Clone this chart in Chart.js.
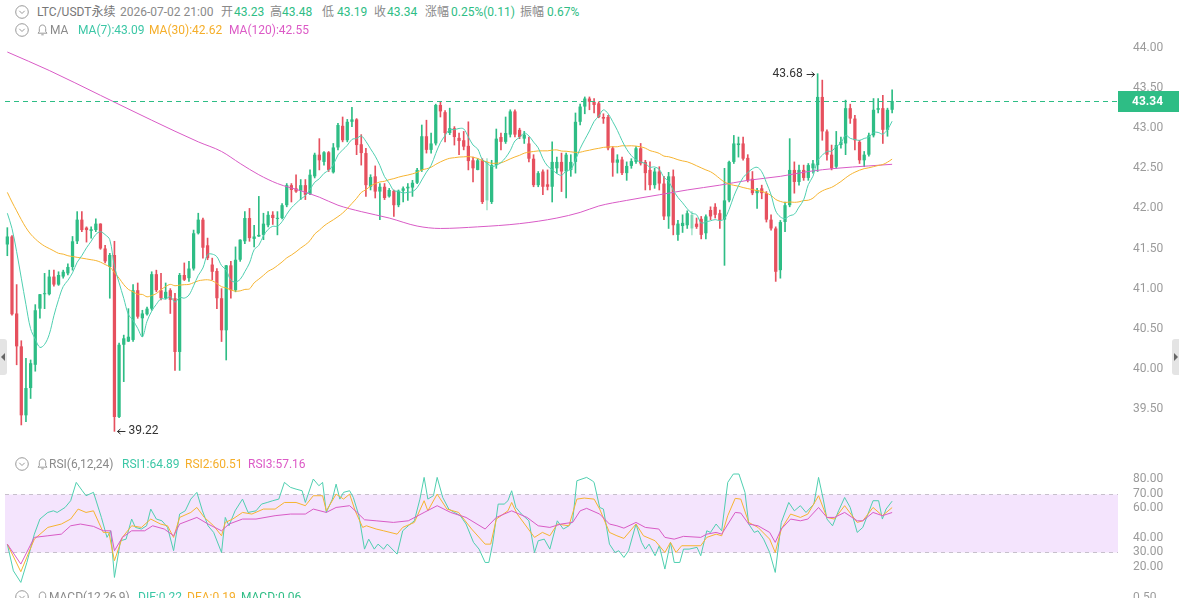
<!DOCTYPE html>
<html>
<head>
<meta charset="utf-8">
<script src="https://cdn.jsdelivr.net/npm/chart.js@4.4.1/dist/chart.umd.min.js"></script>
<style>
  body { margin: 0; background: #fff; }
  #wrap { position: relative; width: 1179px; height: 598px; overflow: hidden; font-family: Roboto, "Noto Sans CJK SC", sans-serif; font-size: 12px; color: #8a8a8a; }
  .t { position: absolute; white-space: nowrap; line-height: 16px; }
  .ic { position: absolute; }
  canvas { position: absolute; left: 0; }
  .up { color: #2ebd85; }
  .c1 { color: #3cc7a6; }
  .c2 { color: #f5ae2a; }
  .c3 { color: #dc5ac6; }
  .tab { position: absolute; top: 339px; width: 7px; height: 36px; background: #e4e4e4; }
</style>
</head>
<body>
<div id="wrap">
  <canvas id="price" width="1179" height="429" style="top:30px"></canvas>
  <canvas id="rsi" width="1179" height="142" style="top:458px"></canvas>

  <svg class="ic" style="left:15px;top:5px" width="14" height="14" viewBox="0 0 14 14"><circle cx="7" cy="7" r="6.3" fill="none" stroke="#9a9a9a"/><path d="M4.3 5.8 L7 8.5 L9.7 5.8" fill="none" stroke="#9a9a9a"/></svg>
  <span class="t" style="left:37px;top:4px;color:#777">LTC/USDT永续</span>
  <span class="t" style="left:120px;top:4px">2026-07-02 21:00</span>
  <span class="t" style="left:221px;top:4px">开</span><span class="t up" style="left:234px;top:4px">43.23</span>
  <span class="t" style="left:270px;top:4px">高</span><span class="t up" style="left:282px;top:4px">43.48</span>
  <span class="t" style="left:322px;top:4px">低</span><span class="t up" style="left:337px;top:4px">43.19</span>
  <span class="t" style="left:374px;top:4px">收</span><span class="t up" style="left:387px;top:4px">43.34</span>
  <span class="t" style="left:425px;top:4px">涨幅</span><span class="t up" style="left:451px;top:4px">0.25%(0.11)</span>
  <span class="t" style="left:520px;top:4px">振幅</span><span class="t up" style="left:547px;top:4px">0.67%</span>

  <svg class="ic" style="left:15px;top:23px" width="14" height="14" viewBox="0 0 14 14"><circle cx="7" cy="7" r="6.3" fill="none" stroke="#9a9a9a"/><path d="M4.3 5.8 L7 8.5 L9.7 5.8" fill="none" stroke="#9a9a9a"/></svg>
  <svg class="ic" style="left:37px;top:24px" width="11" height="12" viewBox="0 0 11 12"><path d="M5.5 1 C3.3 1 2.3 2.8 2.3 4.6 V7.6 L1 9.2 H10 L8.7 7.6 V4.6 C8.7 2.8 7.7 1 5.5 1 Z" fill="none" stroke="#9a9a9a"/><path d="M4.3 10.8 H6.7" stroke="#9a9a9a"/></svg>
  <span class="t" style="left:50px;top:22px">MA</span>
  <span class="t c1" style="left:78px;top:22px">MA(7):43.09</span>
  <span class="t c2" style="left:149px;top:22px">MA(30):42.62</span>
  <span class="t c3" style="left:229px;top:22px">MA(120):42.55</span>

  <svg class="ic" style="left:15px;top:457px" width="14" height="14" viewBox="0 0 14 14"><circle cx="7" cy="7" r="6.3" fill="none" stroke="#9a9a9a"/><path d="M4.3 5.8 L7 8.5 L9.7 5.8" fill="none" stroke="#9a9a9a"/></svg>
  <svg class="ic" style="left:37px;top:458px" width="11" height="12" viewBox="0 0 11 12"><path d="M5.5 1 C3.3 1 2.3 2.8 2.3 4.6 V7.6 L1 9.2 H10 L8.7 7.6 V4.6 C8.7 2.8 7.7 1 5.5 1 Z" fill="none" stroke="#9a9a9a"/><path d="M4.3 10.8 H6.7" stroke="#9a9a9a"/></svg>
  <span class="t" style="left:49px;top:456px">RSI(6,12,24)</span>
  <span class="t c1" style="left:122px;top:456px">RSI1:64.89</span>
  <span class="t c2" style="left:185px;top:456px">RSI2:60.51</span>
  <span class="t c3" style="left:248px;top:456px">RSI3:57.16</span>

  <svg class="ic" style="left:15px;top:590px" width="14" height="14" viewBox="0 0 14 14"><circle cx="7" cy="7" r="6.3" fill="none" stroke="#9a9a9a"/><path d="M4.3 5.8 L7 8.5 L9.7 5.8" fill="none" stroke="#9a9a9a"/></svg>
  <svg class="ic" style="left:37px;top:591px" width="11" height="12" viewBox="0 0 11 12"><path d="M5.5 1 C3.3 1 2.3 2.8 2.3 4.6 V7.6 L1 9.2 H10 L8.7 7.6 V4.6 C8.7 2.8 7.7 1 5.5 1 Z" fill="none" stroke="#9a9a9a"/></svg>
  <span class="t" style="left:49px;top:589px">MACD(12,26,9)</span>
  <span class="t c1" style="left:138px;top:589px">DIF:0.22</span>
  <span class="t c2" style="left:187px;top:589px">DEA:0.19</span>
  <span class="t up" style="left:241px;top:589px">MACD:0.06</span>
  <span class="t" style="left:1133px;top:589px;color:#9b9b9b">0.50</span>

  <div class="tab" style="left:0;border-radius:0 3px 3px 0"></div>
  <div class="ic" style="left:1px;top:353px;border-top:4px solid transparent;border-bottom:4px solid transparent;border-right:4px solid #666"></div>
  <div class="tab" style="left:1172px;border-radius:3px 0 0 3px"></div>
  <div class="ic" style="left:1174px;top:353px;border-top:4px solid transparent;border-bottom:4px solid transparent;border-left:4px solid #666"></div>
</div>

<script>
// hourly candles, oldest first
const opens = [
  41.55, 41.65, 40.69, 40.28, 39.42, 39.76, 40.05, 40.75, 40.93, 40.93,
  41.15, 41.05, 41.15, 41.19, 41.27, 41.59, 41.86, 41.76, 41.72, 41.73,
  41.81, 41.50, 41.27, 41.42, 39.40, 40.30, 40.34, 40.36, 40.98, 40.63,
  40.68, 40.75, 41.18, 40.98, 40.88, 40.98, 40.88, 40.21, 41.17, 41.13,
  41.25, 41.69, 41.86, 41.54, 41.30, 41.22, 40.88, 40.48, 41.29, 40.98,
  41.36, 41.59, 41.88, 41.62, 41.65, 41.67, 41.79, 41.92, 41.87, 41.88,
  42.04, 42.29, 42.25, 42.22, 42.29, 42.18, 42.40, 42.67, 42.58, 42.70,
  42.45, 42.76, 43.03, 42.85, 43.08, 43.11, 42.80, 42.69, 42.27, 42.40,
  42.21, 42.27, 42.15, 42.22, 42.04, 42.22, 42.25, 42.26, 42.32, 42.48,
  42.90, 42.73, 42.81, 43.29, 43.20, 42.94, 43.00, 42.88, 42.85, 42.78,
  42.60, 42.48, 42.60, 42.10, 42.08, 42.54, 42.89, 42.83, 42.92, 43.21,
  42.98, 42.87, 42.81, 42.62, 42.29, 42.46, 42.30, 42.27, 42.50, 42.58,
  42.46, 42.48, 42.58, 43.08, 43.27, 43.37, 43.33, 43.31, 43.14, 43.14,
  42.75, 42.57, 42.61, 42.44, 42.53, 42.58, 42.75, 42.58, 42.48, 42.29,
  42.46, 42.31, 41.90, 42.40, 41.67, 41.78, 41.79, 41.75, 41.81, 41.87,
  41.69, 41.98, 42.02, 41.94, 41.86, 42.10, 42.58, 42.79, 42.81, 42.63,
  42.37, 42.19, 42.25, 42.19, 41.86, 41.75, 41.23, 41.83, 42.04, 42.48,
  42.33, 42.48, 42.38, 42.50, 42.54, 43.39, 42.96, 42.67, 42.52, 42.79,
  42.81, 43.25, 43.12, 42.83, 42.60, 42.67, 42.91, 43.23, 43.25, 42.98,
  43.23
];
const highs = [
  41.76, 41.66, 41.05, 40.35, 40.13, 40.11, 40.80, 40.93, 41.19, 41.23,
  41.23, 41.21, 41.23, 41.31, 41.65, 41.96, 41.96, 41.77, 41.77, 41.87,
  41.81, 41.54, 41.44, 41.59, 40.32, 40.42, 40.75, 41.05, 41.07, 40.73,
  40.77, 41.21, 41.23, 41.19, 41.07, 41.00, 40.94, 41.19, 41.32, 41.34,
  41.73, 41.94, 41.88, 41.63, 41.38, 41.25, 41.00, 41.29, 41.34, 41.52,
  41.61, 41.96, 42.00, 41.79, 42.15, 41.94, 41.96, 41.96, 41.96, 42.06,
  42.31, 42.31, 42.42, 42.36, 42.36, 42.48, 42.69, 42.87, 42.71, 42.71,
  42.81, 43.06, 43.14, 43.11, 43.26, 43.12, 42.92, 42.75, 42.42, 42.53,
  42.31, 42.31, 42.25, 42.23, 42.23, 42.27, 42.31, 42.35, 42.50, 43.04,
  43.10, 42.94, 43.30, 43.33, 43.22, 43.25, 43.02, 42.94, 42.96, 43.08,
  42.64, 42.62, 42.62, 42.62, 42.60, 42.99, 42.94, 43.14, 43.23, 43.23,
  43.00, 42.96, 42.89, 42.67, 42.46, 42.48, 42.48, 42.83, 42.64, 42.69,
  42.69, 42.67, 43.19, 43.30, 43.39, 43.39, 43.37, 43.33, 43.18, 43.16,
  42.77, 42.67, 42.64, 42.58, 42.62, 42.77, 42.81, 42.60, 42.58, 42.50,
  42.52, 42.40, 42.45, 42.48, 41.85, 41.92, 41.97, 41.96, 41.88, 41.90,
  41.92, 42.02, 42.06, 41.98, 42.50, 42.59, 42.91, 42.89, 42.89, 42.67,
  42.46, 42.25, 42.29, 42.21, 41.92, 41.77, 41.85, 42.08, 42.87, 42.58,
  42.54, 42.54, 42.56, 42.60, 43.68, 43.60, 42.98, 42.79, 42.96, 42.89,
  43.35, 43.30, 43.16, 42.85, 42.71, 42.94, 43.37, 43.37, 43.41, 43.25,
  43.48
];
const lows = [
  41.41, 40.67, 40.05, 39.30, 39.34, 39.63, 39.97, 40.63, 40.75, 40.92,
  41.03, 41.04, 41.13, 41.17, 41.23, 41.56, 41.71, 41.58, 41.63, 41.71,
  41.49, 41.32, 40.88, 39.22, 39.39, 39.84, 40.34, 40.34, 40.63, 40.40,
  40.67, 40.73, 40.96, 40.86, 40.87, 40.69, 39.98, 39.98, 41.10, 41.09,
  41.23, 41.68, 41.38, 41.36, 41.11, 40.75, 40.34, 40.11, 40.88, 40.96,
  41.34, 41.56, 41.59, 41.52, 41.65, 41.61, 41.77, 41.80, 41.67, 41.87,
  42.02, 42.08, 42.20, 42.11, 42.11, 42.17, 42.38, 42.48, 42.54, 42.46,
  42.44, 42.73, 42.83, 42.83, 43.02, 42.67, 42.54, 42.15, 42.23, 42.13,
  41.86, 42.11, 42.14, 41.90, 42.02, 42.08, 42.10, 42.15, 42.31, 42.46,
  42.69, 42.69, 42.79, 43.14, 42.83, 42.92, 42.79, 42.67, 42.73, 42.48,
  42.33, 42.48, 42.06, 41.98, 42.06, 42.50, 42.73, 42.81, 42.89, 42.89,
  42.87, 42.81, 42.58, 42.27, 42.27, 42.17, 42.23, 42.08, 42.44, 42.21,
  42.13, 42.40, 42.44, 43.04, 43.18, 43.23, 43.19, 43.13, 43.06, 42.73,
  42.40, 42.44, 42.42, 42.35, 42.50, 42.56, 42.54, 42.23, 42.23, 42.25,
  42.23, 41.86, 41.75, 41.67, 41.60, 41.70, 41.75, 41.67, 41.75, 41.62,
  41.62, 41.86, 41.88, 41.75, 41.29, 42.08, 42.56, 42.64, 42.60, 42.33,
  42.17, 42.00, 42.12, 41.83, 41.73, 41.09, 41.13, 41.71, 42.02, 42.19,
  42.29, 42.35, 42.35, 42.44, 42.46, 42.85, 42.60, 42.48, 42.50, 42.75,
  42.67, 43.06, 42.73, 42.56, 42.52, 42.65, 42.89, 43.19, 42.81, 42.90,
  43.19
];
const closes = [
  41.65, 40.68, 40.28, 39.42, 39.76, 40.07, 40.73, 40.93, 40.94, 41.15,
  41.05, 41.17, 41.21, 41.27, 41.59, 41.86, 41.73, 41.73, 41.74, 41.81,
  41.50, 41.34, 41.42, 39.40, 40.30, 40.38, 40.40, 40.98, 40.65, 40.69,
  40.75, 41.18, 40.98, 40.88, 40.96, 40.86, 40.21, 41.17, 41.11, 41.25,
  41.69, 41.86, 41.51, 41.38, 41.21, 40.88, 40.48, 41.29, 40.98, 41.36,
  41.61, 41.88, 41.63, 41.65, 41.67, 41.81, 41.92, 41.88, 41.88, 42.04,
  42.29, 42.23, 42.21, 42.29, 42.17, 42.42, 42.67, 42.60, 42.70, 42.48,
  42.76, 43.04, 42.85, 43.08, 43.11, 42.79, 42.69, 42.29, 42.39, 42.21,
  42.27, 42.13, 42.23, 42.04, 42.22, 42.25, 42.27, 42.32, 42.48, 42.90,
  42.73, 42.81, 43.29, 43.21, 42.94, 43.00, 42.89, 42.84, 42.77, 42.59,
  42.50, 42.60, 42.08, 42.58, 42.54, 42.87, 42.83, 42.94, 43.21, 42.92,
  42.89, 42.92, 42.62, 42.29, 42.44, 42.27, 42.27, 42.58, 42.58, 42.46,
  42.67, 42.58, 43.08, 43.27, 43.37, 43.33, 43.29, 43.14, 43.12, 42.75,
  42.57, 42.61, 42.44, 42.53, 42.59, 42.75, 42.56, 42.44, 42.29, 42.46,
  42.31, 41.90, 42.40, 41.79, 41.81, 41.82, 41.94, 41.92, 41.77, 41.67,
  41.90, 41.90, 41.92, 41.85, 42.10, 42.58, 42.81, 42.81, 42.62, 42.35,
  42.19, 42.23, 42.19, 41.86, 41.75, 41.21, 41.83, 42.04, 42.48, 42.33,
  42.48, 42.38, 42.54, 42.56, 43.39, 42.96, 42.67, 42.50, 42.79, 42.83,
  43.25, 43.12, 42.85, 42.60, 42.67, 42.91, 43.23, 43.25, 42.98, 43.23,
  43.34
];
// two candles drawn pale in the original
const fadedBars = [103, 147];

// MA values before enough candles are visible
const ma7Head = [41.94, 41.75, 41.46, 41.13, 40.80, 40.50];
const ma30Head = [42.20, 42.08, 41.97, 41.86, 41.76, 41.68, 41.62, 41.57, 41.53, 41.50,
  41.47, 41.44, 41.43, 41.41, 41.40, 41.39, 41.38, 41.37, 41.36, 41.35,
  41.33, 41.30, 41.27, 41.20, 41.13, 41.05, 40.99, 40.96, 40.93];
// MA120 read at points along the curve [candle, value]
const ma120Points = [[0,43.95],[9,43.72],[20,43.41],[31,43.10],[41,42.83],[46,42.71],[50,42.56],[54,42.42],
  [58,42.31],[63,42.22],[67,42.14],[71,42.04],[76,41.96],[82,41.88],[88,41.78],[93,41.75],[101,41.77],
  [110,41.81],[118,41.88],[123,41.95],[127,42.03],[133,42.10],[140,42.17],[146,42.23],[153,42.29],
  [159,42.35],[166,42.40],[172,42.46],[178,42.50],[185,42.53],[190,42.55]];

// RSI lines read at their turning points [candle, value]
const rsi1 = [[0,35.6],[1.3,17.4],[2.9,9.5],[4.2,23.1],[5.8,42.4],[7,52.7],[8.7,57.2],[9.9,58.3],[10.7,57.2],[12.4,60.6],
  [13.6,65.2],[14.8,77.7],[16.1,72],[16.9,68.6],[18.5,70.9],[20.2,53.8],[21.4,40.2],[22.2,44.7],[23,12.9],[24.3,37.9],
  [25.5,39],[26.7,52.7],[27.5,47],[28.8,45.9],[29.9,48.1],[30.8,59.5],[32,52.7],[33.2,51.5],[34.4,47],[35.7,31.1],
  [37,56.1],[38.2,58.3],[39.4,66.3],[40.7,70.9],[41.9,58.3],[43.1,48.1],[44.3,43.6],[46,29.9],[46.8,53.8],[47.6,48.1],
  [48.9,58.3],[50.5,66.3],[51.7,57.2],[53.4,58.3],[54.6,62.9],[55.8,64],[57,65.2],[58.3,66.3],[59.5,77.7],[60.8,74.3],
  [62,73.1],[63.3,72],[64,64],[65.7,80],[66.9,75.4],[67.7,77.7],[68.5,57.2],[69.8,66.3],[70.6,76.5],[71.4,66.3],
  [72.2,70.9],[73.5,72],[74.3,67.4],[75.5,54.9],[76.7,32.2],[77.6,39],[78.8,32.2],[79.6,35.6],[80.8,32.2],[81.6,35.6],
  [83.7,28.8],[84.9,44.7],[86.1,48.1],[87.4,51.5],[88.6,66.3],[89.5,81.1],[90.3,66.3],[91.5,68.6],[92.3,81.1],[93.5,67.4],
  [94.8,59.5],[96,57.2],[97.3,54.9],[98.5,49.3],[100.1,36.8],[101.3,32.2],[102.6,23.1],[103.4,23.1],[104.2,35.6],[105.4,62.9],
  [106.7,62.9],[107.5,65.2],[108.3,72],[109.2,60.6],[110.4,56.1],[112,51.5],[113.2,29.9],[114,37.9],[115.3,39],[116.5,32.2],
  [118.1,51.5],[119.4,45.9],[120.6,48.1],[121.4,51.5],[122.3,78.8],[124.4,81.1],[125.6,78.8],[126,77.7],[127.2,60.6],[128,59.5],
  [129.3,35.6],[130.5,29.9],[131.3,31.1],[132.4,26.5],[133.4,31.1],[135,49.3],[136.2,36.8],[137,32.2],[137.8,35.6],[139.1,27.7],
  [140,34.5],[141.2,18.6],[142.4,36.8],[143.2,23.1],[144.4,23.1],[145.2,32.2],[146.4,32.2],[148.1,33.4],[148.9,27.7],[150.2,44.7],
  [151,43.6],[152.2,49.3],[153.4,44.7],[154.7,77.7],[155.9,83.4],[157.1,83.4],[158.4,70.9],[159.2,49.3],[160.4,43.6],[161.2,44.7],
  [162.4,39],[163.7,29.9],[164.9,16.3],[166.2,50.4],[167.8,64],[169,58.3],[170.3,61.8],[171.5,57.2],[173.2,62.9],[174.2,81.1],
  [175.2,66.3],[176,52.7],[177.2,48.1],[178.5,58.3],[179.8,67.4],[181,60.6],[182.5,43.6],[183.7,47],[185.9,65.2],[187.1,65.2],
  [187.9,52.7],[188.7,59.5],[190,64.89]];
const rsi2 = [[0,35.6],[2.9,16.8],[5.8,39],[8.7,47],[11.6,49.3],[13.6,52.7],[15.2,59.5],[16.9,57.2],[18.5,58.3],[20.6,43.6],
  [21.8,43.6],[23,24.3],[24.7,40.2],[26.7,48.1],[28.8,47],[30.8,52.7],[32.9,49.3],[34.4,48.1],[35.7,40.2],[37,53.8],
  [39.4,57.2],[40.7,60.6],[42.3,53.8],[44.3,48.1],[46,41.3],[46.8,50.4],[48.4,52.7],[50.5,57.2],[52.5,56.1],[55,59.5],
  [57.5,59.5],[59.5,64],[62,64],[64,61.8],[65.7,68.6],[67.7,68.6],[68.5,58.3],[70.6,69.7],[72.2,66.3],[73.5,69.7],
  [74.7,58.3],[76.3,47],[77.1,48.1],[79.2,45.9],[80.8,44.7],[83.7,42.4],[84.9,47],[87.4,50.4],[89.5,65.2],[90.3,58.3],
  [92.3,69.7],[94.4,59.5],[96.9,57.2],[99.7,45.9],[102.6,35.6],[103.8,35.6],[105,52.7],[107.5,58.3],[108.3,64],[109.5,56.1],
  [113.2,40.2],[114.9,43.6],[116.5,41.3],[118.1,49.3],[120.6,48.1],[122.3,66.3],[123.9,67],[126,66.3],[127.2,59.5],[129.3,43.6],
  [130.9,41.3],[132.4,39.5],[135,49.3],[136.6,41.3],[139.1,37.9],[141.2,29.9],[142.4,36.8],[143.6,29.9],[144.8,34.5],[148.9,34.5],
  [150.2,40.2],[152.2,42.4],[153.4,41.3],[154.7,55],[156.3,66.8],[157.5,66.3],[159.2,50.4],[161.2,47],[163.7,39],[164.9,29.9],
  [166.2,45.9],[168.2,56.1],[170.3,53.8],[171.9,56.1],[174.2,68.6],[176,53.8],[177.6,52.7],[179.8,61.8],[182.5,50.4],[183.7,51.5],
  [185.9,60.6],[187.9,55],[190,60.51]];
const rsi3 = [[0,35.6],[2.9,22],[5.8,40.2],[8.7,41.3],[11.6,42.4],[13.6,48.1],[15.7,49.3],[18.5,47.7],[20.6,44.7],[22.2,44.7],
  [23,31.1],[24.7,40.2],[26.7,44.7],[29.5,44.7],[31.2,48.1],[33.7,45.9],[35.7,41.3],[37,49.3],[40.7,53.8],[43.1,49.3],
  [46,44.7],[47.6,49.3],[50.5,52.7],[53.4,52.7],[57.5,55],[60.8,56.1],[64,56.1],[65.7,59.5],[68.5,57.2],[70.6,60.6],
  [73.5,61.8],[75.1,57.2],[76.7,52.2],[79.2,51.5],[82.9,50.4],[86.1,51.5],[89.5,57.2],[92.3,61.8],[95.2,57.2],[98.5,53.8],
  [102.6,45.9],[105,53.8],[108.3,58.3],[111.6,53.8],[114,48.1],[116.5,47],[118.9,49.3],[121.4,50.4],[123,58.3],[124.4,60],
  [127.2,56.1],[129.3,49.3],[130.9,48.1],[132.4,46.5],[135,50.4],[137,47],[139.9,45.9],[141.2,40.2],[143.2,39],[145.2,40.9],
  [148.9,40.2],[150.2,42.4],[152.2,43.6],[153.4,42.4],[156.3,57.2],[157.5,56.8],[159.2,49.3],[161.2,48.1],[163.7,43.6],[164.9,36.8],
  [166.2,45.9],[168.2,52.7],[170.3,51.5],[171.9,52.7],[174.2,60.6],[176,53.8],[177.6,53.8],[179.8,57.2],[182.5,51.5],[183.7,51.5],
  [185.9,57.2],[187.9,55],[190,57.16]];

const priceTicks = [39.5, 40, 40.5, 41, 41.5, 42, 42.5, 43, 43.5, 44];
const rsiTicks = [20, 30, 40, 60, 70, 80];
const lastPrice = 43.34;
const highMark = [174, 43.68];
const lowMark = [23, 39.22];
const slots = 239; // visible candle slots incl. empty space on the right

const UP = '#2ebd85';
const DOWN = '#e6505e';
const FADED = 'rgba(46,189,133,0.4)';
const MA7C = '#4fcfb0', MA30C = '#f6b431', MA120C = '#d95bc6';
const AXIS_TEXT = '#9b9b9b';

function movingAverage(period, head) {
  return closes.map((c, i) => {
    if (i < period - 1) return {x: i, y: head[i]};
    let s = 0;
    for (let k = i - period + 1; k <= i; k++) s += closes[k];
    return {x: i, y: s / period};
  });
}
const pts = arr => arr.map(([x, y]) => ({x, y}));

const candleColors = closes.map((c, i) => fadedBars.includes(i) ? FADED : (c >= opens[i] ? UP : DOWN));
const bodies = closes.map((c, i) => ({x: i, y: [Math.min(opens[i], c), Math.max(opens[i], c)]}));
const wicks = closes.map((c, i) => ({x: i, y: [lows[i], highs[i]]}));

function arrow(ctx, fromX, toX, y) {
  const dir = Math.sign(toX - fromX);
  ctx.beginPath();
  ctx.moveTo(fromX, y); ctx.lineTo(toX, y);
  ctx.moveTo(toX - dir * 3, y - 2.5); ctx.lineTo(toX, y); ctx.lineTo(toX - dir * 3, y + 2.5);
  ctx.stroke();
}

const priceMarks = {
  id: 'priceMarks',
  afterDraw(chart) {
    const {ctx, chartArea, scales: {x, y}} = chart;
    const py = Math.round(y.getPixelForValue(lastPrice)) + 0.5;
    ctx.save();
    ctx.strokeStyle = UP;
    ctx.lineWidth = 1;
    ctx.setLineDash([5, 4]);
    ctx.beginPath();
    ctx.moveTo(chartArea.left, py);
    ctx.lineTo(chartArea.right, py);
    ctx.stroke();
    ctx.setLineDash([]);
    ctx.fillStyle = UP;
    ctx.fillRect(chartArea.right, py - 10.5, chart.width - chartArea.right, 21);
    ctx.fillStyle = '#fff';
    ctx.font = 'bold 12px Roboto';
    ctx.textAlign = 'center';
    ctx.textBaseline = 'middle';
    ctx.fillText(lastPrice.toFixed(2), (chartArea.right + chart.width) / 2 - 1, py + 0.5);

    ctx.fillStyle = '#333';
    ctx.strokeStyle = '#333';
    ctx.font = '12px Roboto';
    const hx = x.getPixelForValue(highMark[0]), hy = y.getPixelForValue(highMark[1]);
    ctx.textAlign = 'right';
    ctx.fillText(highMark[1].toFixed(2), hx - 15, hy);
    arrow(ctx, hx - 11, hx - 3, Math.round(hy) + 0.5);
    const lx = x.getPixelForValue(lowMark[0]), ly = y.getPixelForValue(lowMark[1]);
    arrow(ctx, lx + 11, lx + 3, Math.round(ly) + 0.5);
    ctx.textAlign = 'left';
    ctx.fillText(lowMark[1].toFixed(2), lx + 14, ly);
    ctx.restore();
  }
};

const rsiBand = {
  id: 'rsiBand',
  beforeDatasetsDraw(chart) {
    const {ctx, chartArea, scales: {y}} = chart;
    const top = Math.round(y.getPixelForValue(70)) + 0.5;
    const bottom = Math.round(y.getPixelForValue(30)) + 0.5;
    ctx.save();
    ctx.fillStyle = '#f4e4fd';
    ctx.fillRect(chartArea.left, top, chartArea.right - chartArea.left, bottom - top);
    ctx.strokeStyle = '#c7c0cc';
    ctx.lineWidth = 1;
    ctx.setLineDash([4, 4]);
    ctx.beginPath();
    ctx.moveTo(chartArea.left, top); ctx.lineTo(chartArea.right, top);
    ctx.moveTo(chartArea.left, bottom); ctx.lineTo(chartArea.right, bottom);
    ctx.stroke();
    ctx.restore();
  }
};

// labels start 15px right of the plot; tick length is used as the gap
const rightAxis = (min, max, ticks) => ({
  position: 'right',
  min, max,
  afterBuildTicks: axis => { axis.ticks = ticks.map(v => ({value: v})); },
  afterFit: axis => { axis.width = 61; },
  grid: {display: false, drawTicks: true, tickLength: 15},
  border: {display: false},
  ticks: {padding: 0, color: AXIS_TEXT, font: {family: 'Roboto', size: 12}, callback: v => v.toFixed(2)}
});

const line = (data, color) => ({type: 'line', data, borderColor: color, borderWidth: 1, pointRadius: 0, fill: false});
const xAxis = {type: 'linear', min: -0.5, max: slots - 0.5, offset: false, display: false};

new Chart(document.getElementById('price'), {
  type: 'bar',
  data: {
    datasets: [
      {...line(movingAverage(7, ma7Head), MA7C), tension: 0.35, order: 0},
      {...line(movingAverage(30, ma30Head), MA30C), tension: 0.35, order: 0},
      {...line(pts(ma120Points), MA120C), cubicInterpolationMode: 'monotone', order: 0},
      {data: bodies, backgroundColor: candleColors, barPercentage: 0.7, categoryPercentage: 1, grouped: false, minBarLength: 1, order: 1},
      {data: wicks, backgroundColor: candleColors, barThickness: 1, grouped: false, order: 2}
    ]
  },
  options: {
    responsive: false,
    animation: false,
    layout: {padding: {left: 5, right: 0, top: 10, bottom: 10}},
    plugins: {legend: {display: false}, tooltip: {enabled: false}},
    scales: {
      x: xAxis,
      y: rightAxis(39.0, 44.1, priceTicks)
    }
  },
  plugins: [priceMarks]
});

new Chart(document.getElementById('rsi'), {
  type: 'line',
  data: {
    datasets: [
      line(pts(rsi3), MA120C),
      line(pts(rsi2), MA30C),
      line(pts(rsi1), MA7C)
    ]
  },
  options: {
    responsive: false,
    animation: false,
    layout: {padding: {left: 5, right: 0, top: 10, bottom: 10}},
    plugins: {legend: {display: false}, tooltip: {enabled: false}},
    scales: {
      x: xAxis,
      y: rightAxis(4.33, 87.5, rsiTicks)
    }
  },
  plugins: [rsiBand]
});
</script>
</body>
</html>
